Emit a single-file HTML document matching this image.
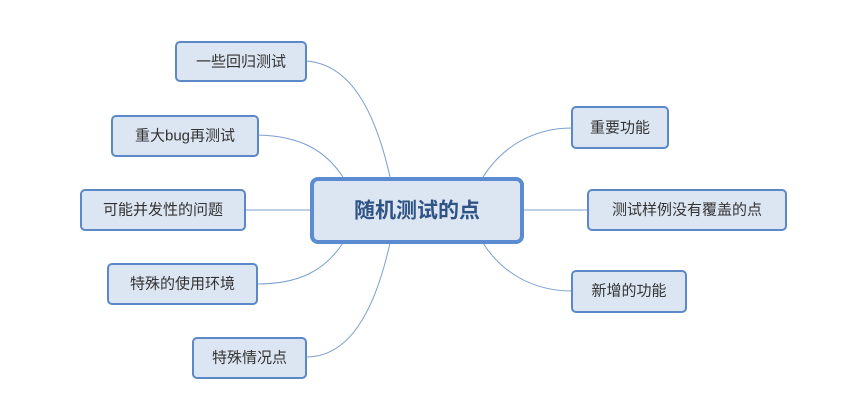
<!DOCTYPE html>
<html><head><meta charset="utf-8"><style>
html,body{margin:0;padding:0;background:#fff;}
svg{display:block;}
text{font-family:"Liberation Sans","Noto Sans CJK SC",sans-serif;}
</style></head><body>
<svg width="858" height="401" viewBox="0 0 858 401" xmlns="http://www.w3.org/2000/svg">
<g fill="none" stroke="#7b9fd0" stroke-width="1">
<path d="M390,177 C375,110 350,64 306,61"/>
<path d="M343,177 C325,150 300,136 258,135"/>
<path d="M245,210 L310,210"/>
<path d="M343,243 C325,270 300,284 257,284"/>
<path d="M390,243 C375,310 350,357 306,357"/>
<path d="M483,177 C500,150 530,128 572,128"/>
<path d="M523,210 L588,210"/>
<path d="M483,243 C500,270 530,291 572,291"/>
</g>
<g fill="#dce6f2" stroke="#5b88c6" stroke-width="2">
<rect x="176" y="42" width="130" height="39" rx="4"/>
<rect x="112" y="116" width="146" height="40" rx="4"/>
<rect x="81" y="190" width="164" height="40" rx="4"/>
<rect x="108" y="264" width="149" height="40" rx="4"/>
<rect x="193" y="338" width="113" height="40" rx="4"/>
<rect x="572" y="107" width="96" height="41" rx="4"/>
<rect x="588" y="190" width="198" height="40" rx="4"/>
<rect x="572" y="271" width="114" height="41" rx="4"/>
</g>
<rect x="312" y="179" width="210" height="63" rx="6" fill="#dce6f2" stroke="#5b8bd0" stroke-width="4"/>
<g font-size="15" fill="#333" text-anchor="middle" dominant-baseline="central">
<text x="241" y="62">一些回归测试</text>
<text x="185" y="136">重大bug再测试</text>
<text x="163" y="210">可能并发性的问题</text>
<text x="182.5" y="284">特殊的使用环境</text>
<text x="249.5" y="358">特殊情况点</text>
<text x="620" y="128">重要功能</text>
<text x="687" y="210">测试样例没有覆盖的点</text>
<text x="629" y="291">新增的功能</text>
</g>
<text x="417" y="211" font-size="21" font-weight="bold" fill="#2f5385" text-anchor="middle" dominant-baseline="central">随机测试的点</text>
</svg>
</body></html>
